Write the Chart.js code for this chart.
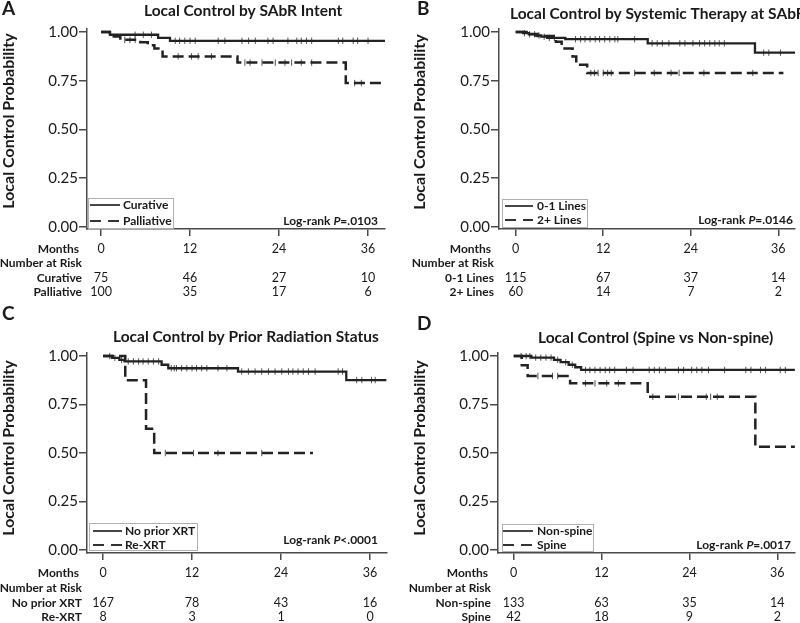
<!DOCTYPE html>
<html>
<head>
<meta charset="utf-8">
<script src="https://cdn.jsdelivr.net/npm/chart.js@4.4.1/dist/chart.umd.min.js"></script>
<style>
body { margin: 0; background: #fff; width: 800px; height: 623px; overflow: hidden; position: relative; }
canvas { position: absolute; left: 0; top: 0; }
</style>
</head>
<body>
<canvas id="pA" width="800" height="623"></canvas>
<canvas id="pB" width="800" height="623"></canvas>
<canvas id="pC" width="800" height="623"></canvas>
<canvas id="pD" width="800" height="623"></canvas>
<script>
var monthTicks = [0, 12, 24, 36];
var probTicks = [0, 0.25, 0.5, 0.75, 1];

// A: SAbR intent
var curTimes = [0, 1.2, 7.7, 9.3, 38.3];
var curSurv  = [1, 0.986, 0.97, 0.955, 0.955];
var curCens  = [4.6, 5.7, 6.8, 10.0, 10.6, 11.3, 12.0, 12.7, 15.8, 16.7, 19.0, 19.9, 20.8, 22.5, 23.2, 25.2, 26.4, 27.0, 27.7, 28.4, 32.0, 32.6, 34.0, 34.6, 36.0];
var palTimes = [0, 1.2, 2.6, 5.3, 6.3, 7.2, 8.3, 18.4, 33.0, 38.3];
var palSurv  = [1, 0.977, 0.96, 0.948, 0.932, 0.916, 0.875, 0.843, 0.738, 0.738];
var palCens  = [3.2, 3.9, 4.6, 10.4, 12.2, 13.1, 14.9, 19.4, 20.1, 21.7, 23.5, 24.8, 25.7, 27.0, 28.4, 34.2, 35.1];
var riskCur = [75, 46, 27, 10];
var riskPal = [100, 35, 17, 6];

// B: systemic therapy lines
var lowTimes = [0, 1.0, 1.8, 2.7, 3.5, 4.3, 6.8, 18.1, 32.8, 38.3];
var lowSurv  = [1, 0.994, 0.988, 0.982, 0.976, 0.97, 0.963, 0.942, 0.894, 0.894];
var lowCens  = [1.2, 1.9, 2.6, 3.2, 3.9, 4.6, 5.3, 8.2, 8.9, 9.5, 10.2, 10.9, 11.5, 12.2, 12.9, 13.6, 14.0, 16.3, 18.7, 19.4, 20.1, 21.0, 22.5, 23.2, 24.3, 25.2, 25.9, 26.6, 27.3, 27.9, 28.6, 34.0, 34.7, 36.3];
var highTimes = [0, 1.5, 3.0, 5.5, 6.3, 7.8, 8.3, 9.8, 36.7];
var highSurv  = [1, 0.99, 0.98, 0.95, 0.916, 0.874, 0.832, 0.79, 0.79];
var highCens  = [10.3, 10.8, 11.3, 12.0, 12.6, 13.1, 16.3, 19.0, 21.3, 22.4, 25.8, 32.5];
var riskLow = [115, 67, 37, 14];
var riskHigh = [60, 14, 7, 2];

// C: prior radiation
var noTimes = [0, 1.2, 2.2, 2.9, 7.9, 8.8, 18.2, 32.8, 38.2];
var noSurv  = [1, 0.99, 0.98, 0.972, 0.955, 0.937, 0.92, 0.876, 0.876];
var noCens  = [0.9, 1.6, 2.5, 3.4, 4.1, 4.8, 5.4, 6.1, 6.8, 7.5, 9.2, 9.6, 9.9, 10.6, 11.3, 12.0, 12.6, 13.3, 14.0, 15.5, 16.7, 18.7, 19.6, 20.5, 21.4, 22.3, 23.2, 24.1, 25.0, 25.6, 26.3, 27.0, 27.7, 28.6, 31.7, 32.3, 34.2, 34.9, 36.2, 36.7];
var reTimes = [0, 3.0, 5.8, 6.9, 28.3];
var reSurv  = [1, 0.875, 0.625, 0.5, 0.5];
var reCens  = [8.4, 12.2, 15.5, 21.4];
var riskNo = [167, 78, 43, 16];
var riskRe = [8, 3, 1, 0];

// D: spine vs non-spine
var nonTimes = [0, 2.4, 5.5, 6.4, 7.5, 8.4, 9.2, 38.4];
var nonSurv  = [1, 0.992, 0.98, 0.968, 0.955, 0.942, 0.928, 0.928];
var nonCens  = [1.0, 1.7, 2.2, 3.0, 3.7, 4.4, 5.1, 6.0, 7.1, 8.0, 9.8, 10.4, 11.1, 11.8, 12.5, 13.1, 13.8, 15.4, 16.3, 18.5, 19.2, 19.9, 20.7, 22.5, 23.2, 24.3, 25.0, 25.7, 26.6, 28.8, 31.7, 32.4, 33.7, 34.4, 36.4, 37.1];
var spTimes = [0, 1.1, 1.9, 7.7, 18.3, 33.0, 38.4];
var spSurv  = [1, 0.952, 0.897, 0.859, 0.79, 0.532, 0.532];
var spCens  = [3.3, 5.3, 6.0, 9.8, 11.1, 12.7, 14.3, 19.0, 22.5, 26.3, 26.9, 27.8];
var riskNon = [133, 63, 35, 14];
var riskSp = [42, 18, 9, 2];

var ink = '#1a1a1a';
var axisCol = '#4a4a4a';
var fam = 'Lato, "DejaVu Sans", sans-serif';

function stepValue(times, surv, t) {
    var v = surv[0];
    for (var i = 0; i < times.length; i++) {
        if (times[i] <= t) v = surv[i];
    }
    return v;
}

function curvePoints(times, surv) {
    return times.map(function(t, i) { return {x: t, y: surv[i]}; });
}

function censorPoints(times, surv, cens) {
    return cens.map(function(t) { return {x: t, y: stepValue(times, surv, t)}; });
}

function drawLogRank(c, text, rightX, y) {
    var p1 = 'Log-rank ', p2 = 'P', p3 = text;
    var f = 'bold 12px ' + fam, fi = 'italic bold 12px ' + fam;
    c.font = f;
    var w1 = c.measureText(p1).width, w3 = c.measureText(p3).width;
    c.font = fi;
    var w2 = c.measureText(p2).width;
    var x = rightX - w1 - w2 - w3;
    c.textAlign = 'left';
    c.font = f;
    c.fillText(p1, x, y);
    c.font = fi;
    c.fillText(p2, x + w1, y);
    c.font = f;
    c.fillText(p3, x + w1 + w2, y);
}

function makePanel(id, p) {
    var decor = {
        id: 'decor',
        afterDraw: function(chart) {
            var c = chart.ctx, xs = chart.scales.x;
            c.save();
            c.fillStyle = ink;
            c.textBaseline = 'alphabetic';
            c.textAlign = 'left';
            c.font = 'bold 19px ' + fam;
            c.fillText(p.letter, p.letterX, p.letterY);
            c.font = 'bold 15.5px ' + fam;
            c.fillText(p.title, p.titleX, p.titleY);

            c.save();
            c.translate(p.yTitleX, p.yTitleY);
            c.rotate(-Math.PI / 2);
            c.textAlign = 'center';
            c.textBaseline = 'middle';
            c.font = 'bold 16px ' + fam;
            c.fillText('Local Control Probability', 0, 0);
            c.restore();

            // legend
            var L = p.legend;
            c.strokeStyle = '#b0b0b0';
            c.lineWidth = 1;
            c.strokeRect(L.x + 0.5, L.y + 0.5, L.w, L.h);
            c.strokeStyle = '#333';
            c.lineWidth = 1.8;
            c.beginPath();
            c.moveTo(L.lineX0, L.row1); c.lineTo(L.lineX1, L.row1);
            c.stroke();
            c.setLineDash([11, 7]);
            c.beginPath();
            c.moveTo(L.lineX0, L.row2); c.lineTo(L.lineX1, L.row2);
            c.stroke();
            c.setLineDash([]);
            c.textBaseline = 'middle';
            c.font = 'bold 12px ' + fam;
            c.fillText(p.names[0], L.textX, L.row1);
            c.fillText(p.names[1], L.textX, L.row2);

            drawLogRank(c, p.pText, p.pX, p.pY);

            // number at risk table
            var R = p.risk;
            c.textAlign = 'right';
            c.font = 'bold 12px ' + fam;
            c.fillText('Months', R.labelX - 3, R.rows[0]);
            c.fillText('Number at Risk', R.labelX, R.rows[1]);
            c.fillText(p.names[0], R.labelX, R.rows[2]);
            c.fillText(p.names[1], R.labelX, R.rows[3]);
            c.textAlign = 'center';
            c.font = '12.5px ' + fam;
            monthTicks.forEach(function(m, i) {
                var x = xs.getPixelForValue(m);
                c.fillText(String(m), x, R.rows[0]);
                c.fillText(String(p.risk1[i]), x, R.rows[2]);
                c.fillText(String(p.risk2[i]), x, R.rows[3]);
            });
            c.restore();
        }
    };

    var A = p.area;
    new Chart(document.getElementById(id).getContext('2d'), {
        type: 'scatter',
        data: {
            datasets: [
                { data: curvePoints(p.t1, p.s1), showLine: true, stepped: true, pointRadius: 0,
                  borderColor: '#222', borderWidth: 2.3 },
                { data: curvePoints(p.t2, p.s2), showLine: true, stepped: true, pointRadius: 0,
                  borderColor: '#222', borderWidth: 2.5, borderDash: [11, 5] },
                { data: censorPoints(p.t1, p.s1, p.c1), showLine: false, pointStyle: 'line',
                  pointRotation: 90, pointRadius: 3.2, pointBorderWidth: 1, pointBorderColor: '#555' },
                { data: censorPoints(p.t2, p.s2, p.c2), showLine: false, pointStyle: 'line',
                  pointRotation: 90, pointRadius: 3.2, pointBorderWidth: 1, pointBorderColor: '#555' }
            ]
        },
        options: {
            responsive: false,
            animation: false,
            events: [],
            layout: { padding: { left: A.padL, top: A.t, right: 800 - A.r, bottom: 623 - A.b - 10 } },
            plugins: { legend: { display: false }, tooltip: { enabled: false } },
            scales: {
                x: {
                    type: 'linear', min: p.xMin, max: p.xMax,
                    afterBuildTicks: function(s) { s.ticks = monthTicks.map(function(v) { return {value: v}; }); },
                    afterFit: function(s) { s.height = 10; },
                    ticks: { display: false },
                    grid: { drawOnChartArea: false, drawTicks: true, tickLength: 7, color: axisCol, lineWidth: 1.5 },
                    border: { color: axisCol, width: 1.5 }
                },
                y: {
                    type: 'linear', min: p.yMin, max: p.yMax,
                    afterBuildTicks: function(s) { s.ticks = probTicks.map(function(v) { return {value: v}; }); },
                    afterFit: function(s) { s.width = A.l - A.padL; },
                    ticks: { color: ink, padding: 1, font: { family: fam, size: 15 },
                             callback: function(v) { return Number(v).toFixed(2); } },
                    grid: { drawOnChartArea: false, drawTicks: true, tickLength: 8, color: axisCol, lineWidth: 1.5 },
                    border: { color: axisCol, width: 1.5 }
                }
            }
        },
        plugins: [decor]
    });
}

makePanel('pA', {
    letter: 'A', letterX: 2, letterY: 15,
    title: 'Local Control by SAbR Intent', titleX: 144, titleY: 16,
    yTitleX: 9, yTitleY: 121,
    area: { padL: 0, l: 87, t: 29, r: 385, b: 229 },
    xMin: -1.89, xMax: 38.29, yMin: -0.0103, yMax: 1.0154,
    t1: curTimes, s1: curSurv, c1: curCens, t2: palTimes, s2: palSurv, c2: palCens,
    names: ['Curative', 'Palliative'],
    legend: { x: 88, y: 198, w: 85, h: 30, row1: 205, row2: 221, lineX0: 90, lineX1: 120, textX: 123 },
    pText: '=.0103', pX: 378, pY: 221,
    risk: { labelX: 82, rows: [249, 263, 278, 292] },
    risk1: riskCur, risk2: riskPal
});

makePanel('pB', {
    letter: 'B', letterX: 417, letterY: 15,
    title: 'Local Control by Systemic Therapy at SAbR', titleX: 510, titleY: 19,
    yTitleX: 420, yTitleY: 122,
    area: { padL: 400, l: 499, t: 29, r: 800, b: 229 },
    xMin: -2.29, xMax: 38.29, yMin: -0.0103, yMax: 1.0154,
    t1: lowTimes, s1: lowSurv, c1: lowCens, t2: highTimes, s2: highSurv, c2: highCens,
    names: ['0-1 Lines', '2+ Lines'],
    legend: { x: 502, y: 199, w: 85, h: 28, row1: 206, row2: 220, lineX0: 505, lineX1: 533, textX: 537 },
    pText: '=.0146', pX: 793, pY: 220,
    risk: { labelX: 494, rows: [249, 263, 278, 292] },
    risk1: riskLow, risk2: riskHigh
});

makePanel('pC', {
    letter: 'C', letterX: 2, letterY: 320,
    title: 'Local Control by Prior Radiation Status', titleX: 113, titleY: 342,
    yTitleX: 9, yTitleY: 448,
    area: { padL: 0, l: 87, t: 353, r: 387, b: 553 },
    xMin: -2.16, xMax: 38.29, yMin: -0.0155, yMax: 1.0155,
    t1: noTimes, s1: noSurv, c1: noCens, t2: reTimes, s2: reSurv, c2: reCens,
    names: ['No prior XRT', 'Re-XRT'],
    legend: { x: 89, y: 523, w: 108, h: 27, row1: 531, row2: 545, lineX0: 93, lineX1: 122, textX: 125 },
    pText: '<.0001', pX: 378, pY: 540,
    risk: { labelX: 82, rows: [573, 588, 603, 617] },
    risk1: riskNo, risk2: riskRe
});

makePanel('pD', {
    letter: 'D', letterX: 417, letterY: 330,
    title: 'Local Control (Spine vs Non-spine)', titleX: 538, titleY: 343,
    yTitleX: 420, yTitleY: 448,
    area: { padL: 400, l: 498, t: 353, r: 800, b: 553 },
    xMin: -2.15, xMax: 38.42, yMin: -0.0155, yMax: 1.0155,
    t1: nonTimes, s1: nonSurv, c1: nonCens, t2: spTimes, s2: spSurv, c2: spCens,
    names: ['Non-spine', 'Spine'],
    legend: { x: 502, y: 524, w: 91, h: 27, row1: 531, row2: 545, lineX0: 503, lineX1: 533, textX: 537 },
    pText: '=.0017', pX: 791, pY: 545,
    risk: { labelX: 491, rows: [573, 588, 603, 617] },
    risk1: riskNon, risk2: riskSp
});
</script>
</body>
</html>
